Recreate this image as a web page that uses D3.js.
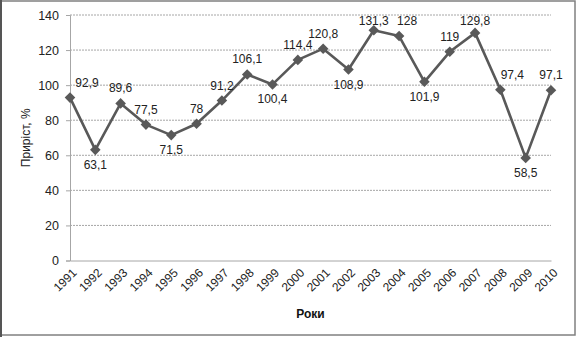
<!DOCTYPE html>
<html>
<head>
<meta charset="utf-8">
<script src="https://cdn.jsdelivr.net/npm/d3@7"></script>
<style>
  html, body { margin: 0; padding: 0; background: #fff; }
  svg { display: block; }
  text { font-family: "Liberation Sans", Arial, sans-serif; }
</style>
</head>
<body>
<script>
// Annual growth, %
const years = ["1991","1992","1993","1994","1995","1996","1997","1998","1999","2000",
               "2001","2002","2003","2004","2005","2006","2007","2008","2009","2010"];
const growth = [92.9, 63.1, 89.6, 77.5, 71.5, 78, 91.2, 106.1, 100.4, 114.4,
                120.8, 108.9, 131.3, 128, 101.9, 119, 129.8, 97.4, 58.5, 97.1];
const yTicks = [0, 20, 40, 60, 80, 100, 120, 140];
const xTitle = "Роки";
const yTitle = "Приріст, %";

// horizontal nudges for labels that would sit on a steep falling segment
const labelNudge = { "1991": 17, "2004": 8, "2008": 12 };

const W = 578, H = 337;
const margin = { left: 70, right: 27, top: 15, bottom: 76.5 };

const svg = d3.select("body").append("svg").attr("width", W).attr("height", H);

// outer frame
svg.append("rect").attr("x", 1).attr("y", 1).attr("width", 574).attr("height", 334)
  .attr("fill", "#fff").attr("stroke", "#808080").attr("stroke-width", 1.5);
svg.append("rect").attr("x", 0).attr("y", 0).attr("width", 2).attr("height", H).attr("fill", "#555");

const x = d3.scalePoint().domain(years).range([margin.left, W - margin.right]);
const y = d3.scaleLinear().domain([0, 140]).range([H - margin.bottom, margin.top]);

// horizontal gridlines
svg.append("g").selectAll("line").data(yTicks.filter(d => d > 0)).join("line")
  .attr("x1", margin.left).attr("x2", W - margin.right)
  .attr("y1", d => y(d)).attr("y2", d => y(d))
  .attr("stroke", "#a6a6a6").attr("stroke-width", 1).attr("stroke-dasharray", "2,1");

// y axis
const yAxis = svg.append("g").attr("transform", `translate(${margin.left},0)`)
  .call(d3.axisLeft(y).tickValues(yTicks).tickSize(4).tickPadding(7));
yAxis.select(".domain").attr("stroke", "#a6a6a6");
yAxis.selectAll(".tick line").attr("stroke", "#a6a6a6");
yAxis.selectAll("text").attr("font-size", 12.5).attr("fill", "#222");

// x axis
const xAxis = svg.append("g").attr("transform", `translate(0,${y(0)})`)
  .call(d3.axisBottom(x).tickSize(0).tickPadding(0));
xAxis.select(".domain").attr("stroke", "#a6a6a6");
xAxis.selectAll("text")
  .attr("font-size", 12).attr("fill", "#222")
  .attr("text-anchor", "end")
  .attr("dy", "0.35em")
  .attr("transform", "translate(4,10) rotate(-45)");

// axis titles
svg.append("text").attr("x", (margin.left + W - margin.right) / 2).attr("y", 318)
  .attr("text-anchor", "middle").attr("font-size", 12).attr("font-weight", "bold")
  .attr("fill", "#111").text(xTitle);
svg.append("text")
  .attr("transform", `translate(30,${(margin.top + H - margin.bottom) / 2}) rotate(-90)`)
  .attr("text-anchor", "middle").attr("font-size", 12).attr("fill", "#222").text(yTitle);

const pts = years.map((yr, i) => ({ yr, v: growth[i], i }));

// series line
svg.append("path").datum(pts)
  .attr("d", d3.line().x(d => x(d.yr)).y(d => y(d.v)))
  .attr("fill", "none").attr("stroke", "#595959").attr("stroke-width", 2.6)
  .attr("stroke-linejoin", "round");

// diamond markers
svg.append("g").selectAll("path").data(pts).join("path")
  .attr("d", d3.symbol(d3.symbolSquare, 56))
  .attr("transform", d => `translate(${x(d.yr)},${y(d.v)}) rotate(45)`)
  .attr("fill", "#595959");

// value labels: local minima below the point, others above
const fmt = v => String(v).replace(".", ",");
const isMin = i => {
  const prev = i > 0 ? growth[i - 1] : Infinity;
  const next = i < growth.length - 1 ? growth[i + 1] : Infinity;
  return growth[i] < prev && growth[i] < next;
};
svg.append("g").selectAll("text").data(pts).join("text")
  .attr("x", d => x(d.yr) + (labelNudge[d.yr] || 0))
  .attr("y", d => isMin(d.i) ? y(d.v) + 19 : Math.max(y(d.v) - 11, margin.top + 10))
  .attr("text-anchor", "middle").attr("font-size", 12).attr("fill", "#222")
  .text(d => fmt(d.v));
</script>
</body>
</html>
